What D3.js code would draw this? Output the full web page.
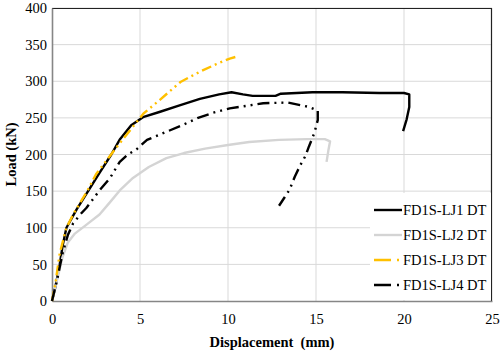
<!DOCTYPE html>
<html>
<head>
<meta charset="utf-8">
<script src="https://cdn.jsdelivr.net/npm/d3@7"></script>
<style>
  body { margin: 0; background: #fff; }
  svg text { font-family: "Liberation Serif", "Times New Roman", Times, serif !important; }
</style>
</head>
<body>
<div id="chart"></div>
<script>
// displacement (mm), load (kN)
var lj1 = [[0,0],[0.2,20],[0.44,50],[0.6,75],[0.82,100],[1.4,125],[2.05,150],[2.7,175],[3.37,200],[3.84,220],[4.5,240],[5.17,251],[6.1,258],[7.25,267],[8.4,276],[9.5,282],[10.2,285],[10.85,282],[11.4,280],[12.7,280],[13,283],[14.8,285],[16.5,285],[18.6,284],[20.0,284],[20.3,282],[20.3,265],[20.15,248],[19.95,232]];
var lj2 = [[0,0],[0.3,30],[0.6,60],[0.9,80],[1.3,92],[2.0,105],[2.7,118],[3.3,135],[3.85,151],[4.6,168],[5.5,183],[6.5,195],[7.5,202],[8.7,208],[10,213],[11.2,217],[12.9,220],[14.5,221],[15.5,221],[15.8,218],[15.7,205],[15.6,190]];
var lj3 = [[0,0],[0.2,25],[0.44,65],[0.82,100],[1.2,118],[1.57,133],[2.0,150],[2.5,173],[3.1,192],[4.0,220],[4.9,247],[5.2,256],[6.1,274],[7.3,299],[8.4,313],[9.3,323],[10.1,331],[10.55,334]];
var lj4 = [[0,0],[0.3,30],[0.6,65],[0.9,90],[1.2,106],[1.6,118],[1.95,127],[2.7,151],[3.3,168],[3.85,190],[4.3,200],[4.8,207],[5.4,220],[6.4,230],[7.4,240],[8.3,250],[9.15,257],[10.1,263],[11.2,267],[12,270],[13.4,271],[14.6,265],[15.1,260],[15.1,247],[14.9,229],[14.6,211],[14.4,198],[14.1,185],[13.8,170],[13.5,152],[13.2,141],[12.9,130]];

var seriesNames = ["FD1S-LJ1 DT", "FD1S-LJ2 DT", "FD1S-LJ3 DT", "FD1S-LJ4 DT"];
var xTicks = [0, 5, 10, 15, 20, 25];
var yTicks = [0, 50, 100, 150, 200, 250, 300, 350, 400];

var series = [
    { name: seriesNames[0], data: lj1, color: "#000000", dash: null },
    { name: seriesNames[1], data: lj2, color: "#d4d4d4", dash: null },
    { name: seriesNames[2], data: lj3, color: "#ffc000", dash: "10,4,2,4,2,4" },
    { name: seriesNames[3], data: lj4, color: "#000000", dash: "12,5,2,5,2,5" }
];

var serif = "'Liberation Serif', 'Times New Roman', Times, serif";

var margin = { top: 8, right: 8, bottom: 52, left: 52 };
var width = 500 - margin.left - margin.right;
var height = 353 - margin.top - margin.bottom;

var svg = d3.select("#chart")
    .append("svg")
    .attr("width", 500)
    .attr("height", 353)
    .style("font-family", serif);

var g = svg.append("g")
    .attr("transform", "translate(" + margin.left + "," + margin.top + ")");

var xScale = d3.scaleLinear().domain([0, 25]).range([0, width]);
var yScale = d3.scaleLinear().domain([0, 400]).range([height, 0]);

// gridlines
g.append("g")
    .selectAll("line")
    .data(xTicks.slice(1, -1))
    .enter()
    .append("line")
    .attr("x1", function (d) { return xScale(d); })
    .attr("x2", function (d) { return xScale(d); })
    .attr("y1", 0)
    .attr("y2", height)
    .attr("stroke", "#d9d9d9");
g.append("g")
    .selectAll("line")
    .data(yTicks.slice(1))
    .enter()
    .append("line")
    .attr("x1", 0)
    .attr("x2", width)
    .attr("y1", function (d) { return yScale(d); })
    .attr("y2", function (d) { return yScale(d); })
    .attr("stroke", "#d9d9d9");

// plot border top / right
g.append("path")
    .attr("d", "M0,0.5H" + (width - 0.5) + "V" + height)
    .attr("fill", "none")
    .attr("stroke", "#222")
    .attr("stroke-width", 1.2);

// axes
var xAxis = g.append("g")
    .attr("transform", "translate(0," + height + ")")
    .call(d3.axisBottom(xScale).tickValues(xTicks).tickSize(0).tickPadding(13));
var yAxis = g.append("g")
    .call(d3.axisLeft(yScale).tickValues(yTicks).tickSize(0).tickPadding(5));
[xAxis, yAxis].forEach(function (a) {
    a.attr("font-family", null).attr("font-size", null);
    a.select(".domain").attr("stroke", "#868686").attr("stroke-width", 1.6);
    a.selectAll("text")
        .style("font-family", serif)
        .style("font-size", "14.5px")
        .attr("fill", "#000");
});

// curves
var line = d3.line()
    .x(function (d) { return xScale(d[0]); })
    .y(function (d) { return yScale(d[1]); });

series.forEach(function (s) {
    g.append("path")
        .datum(s.data)
        .attr("d", line)
        .attr("fill", "none")
        .attr("stroke", s.color)
        .attr("stroke-width", 2.4)
        .attr("stroke-linejoin", "round")
        .attr("stroke-dasharray", s.dash);
});

// legend
var legend = g.append("g").attr("transform", "translate(318,185)");
legend.append("rect")
    .attr("x", 0)
    .attr("y", 0)
    .attr("width", width - 318 - 1)
    .attr("height", height - 185 - 1)
    .attr("fill", "#fff");
series.forEach(function (s, i) {
    var yy = 17 + i * 25;
    legend.append("line")
        .attr("x1", 4)
        .attr("x2", 32)
        .attr("y1", yy)
        .attr("y2", yy)
        .attr("stroke", s.color)
        .attr("stroke-width", 2.4)
        .attr("stroke-dasharray", s.dash ? "17,6,2,6" : null);
    legend.append("text")
        .attr("x", 33)
        .attr("y", yy + 5)
        .style("font-size", "14.5px")
        .text(s.name);
});

// axis titles
svg.append("text")
    .attr("x", margin.left + width / 2)
    .attr("y", 347)
    .attr("text-anchor", "middle")
    .style("font-size", "14.5px")
    .attr("font-weight", "bold")
    .attr("xml:space", "preserve")
    .text("Displacement  (mm)");
svg.append("text")
    .attr("transform", "translate(16," + (margin.top + height / 2) + ") rotate(-90)")
    .attr("text-anchor", "middle")
    .style("font-size", "14.5px")
    .attr("font-weight", "bold")
    .text("Load (kN)");
</script>
</body>
</html>
